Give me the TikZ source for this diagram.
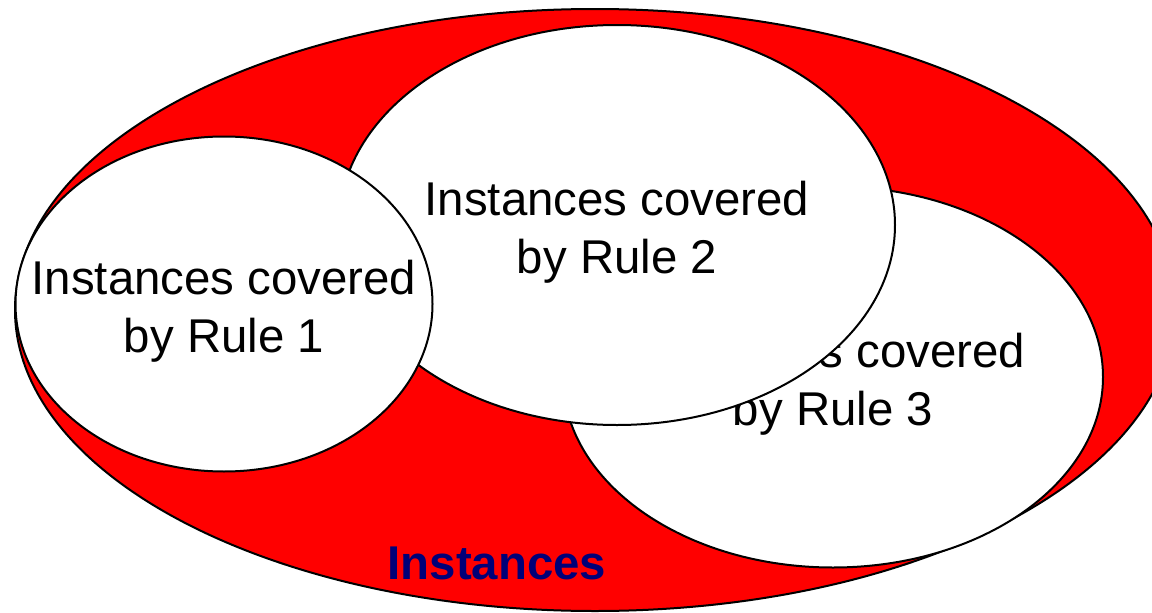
\documentclass[tikz,border=0pt]{standalone}
\usepackage{fontspec}
\setmainfont{Liberation Sans}
\usetikzlibrary{shapes.geometric}

\definecolor{rulered}{RGB}{255,0,0}
\definecolor{instblue}{RGB}{0,0,120}

\tikzset{
  rulebox/.style={ellipse, draw=black, line width=2pt, fill=white, inner sep=0pt},
  ruletext/.style={align=center, inner sep=0pt, yshift=-7pt, font=\fontsize{47.4}{58}\selectfont},
}

\begin{document}
\begin{tikzpicture}[x=1pt, y=-1pt]

\useasboundingbox (0,0) rectangle (1152,613);

% all instances
\node[rulebox, fill=rulered, minimum width=1160pt, minimum height=602pt] (all) at (595,310) {};

% the three rules, last one on top
\node[rulebox, minimum width=540pt, minimum height=381pt] (rule3) at (833,377) {};
\node[ruletext] (txt3) at (rule3.center) {Instances covered\\by Rule 3};

\node[rulebox, minimum width=556pt, minimum height=400pt] (rule2) at (617,225) {};
\node[ruletext] (txt2) at (rule2.center) {Instances covered\\by Rule 2};

\node[rulebox, minimum width=417pt, minimum height=335pt] (rule1) at (224,304) {};
\node[ruletext] (txt1) at (rule1.center) {Instances covered\\by Rule 1};

\node[instblue, font=\fontsize{47.4}{58}\selectfont\bfseries] (lbl) at (497,563) {Instances};

\end{tikzpicture}
\end{document}
